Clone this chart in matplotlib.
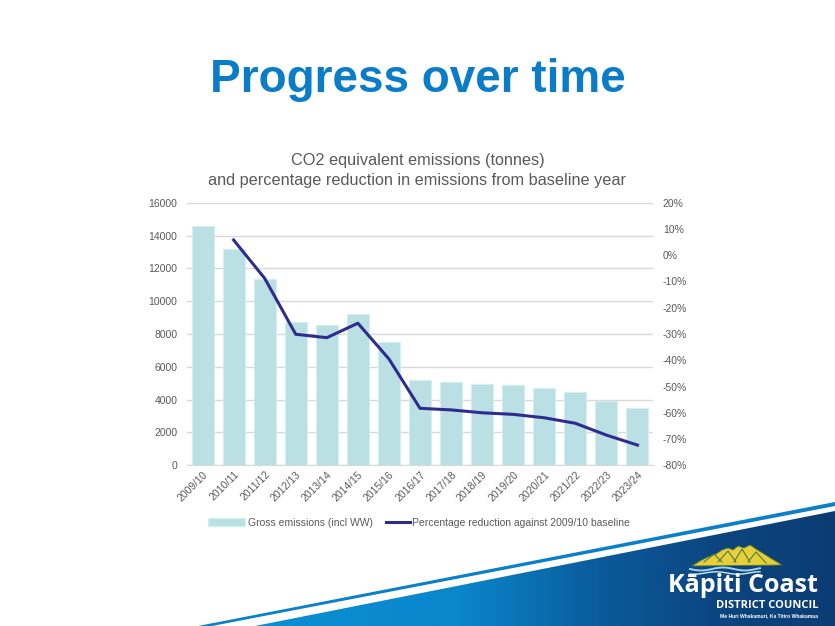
import numpy as np
import matplotlib
matplotlib.use("Agg")
import matplotlib.pyplot as plt
from matplotlib.patches import Polygon, Patch
from matplotlib.lines import Line2D
from matplotlib.colors import LinearSegmentedColormap

plt.rcParams['font.family'] = ['Liberation Sans', 'DejaVu Sans']

years = ["2009/10", "2010/11", "2011/12", "2012/13", "2013/14", "2014/15", "2015/16",
         "2016/17", "2017/18", "2018/19", "2019/20", "2020/21", "2021/22", "2022/23", "2023/24"]
gross = [14600, 13170, 11370, 8710, 8550, 9200, 7500, 5180, 5100, 4950, 4870, 4720, 4450, 3920, 3470]
pct = [np.nan, 5.8, -8.8, -30.1, -31.4, -25.9, -39.5, -58.3, -58.9, -60.0, -60.6, -61.9, -64.0, -68.5, -72.3]
left_ticks = list(range(0, 16001, 2000))
right_ticks = list(range(-80, 21, 10))

W, H = 835, 626
fig = plt.figure(figsize=(W / 100, H / 100), dpi=100)

# ---- background decoration (swoosh + logo) in pixel coordinates
bg = fig.add_axes([0, 0, 1, 1], zorder=0)
bg.set_xlim(0, W)
bg.set_ylim(H, 0)
bg.axis('off')

poly_pts = [(255, 626), (835, 511), (835, 626)]
grad = np.linspace(0, 1, 400)[None, :]
cmap = LinearSegmentedColormap.from_list('sw', [(0, '#0a8fd4'), (0.35, '#0a86cb'), (0.6, '#0b5a9a'),
                                                (0.8, '#0b4580'), (1, '#0b3d74')])
im = bg.imshow(grad, extent=[255, 835, 626, 505], cmap=cmap, aspect='auto', zorder=1)
clip = Polygon(poly_pts, closed=True, transform=bg.transData, facecolor='none', edgecolor='none')
bg.add_patch(clip)
im.set_clip_path(clip)
stripe = Polygon([(198, 626), (835, 502), (835, 506), (212, 626)], closed=True,
                 facecolor='#0a7fca', edgecolor='none', zorder=2)
bg.add_patch(stripe)
bg.set_xlim(0, W)
bg.set_ylim(H, 0)

# logo mountain
mount = [(692, 566), (700, 561), (708, 557), (716, 554), (722, 550), (728, 548), (733, 550),
         (738, 546), (744, 548), (750, 545), (756, 549), (764, 554), (772, 559), (782, 565)]
bg.add_patch(Polygon(mount, closed=True, facecolor='#e6cf3a', edgecolor='#5a7a2a', lw=0.6, zorder=3))
for xs, ys in [([704, 714, 722], [562, 554, 562]), ([718, 728, 736], [562, 551, 562]),
               ([734, 742, 750], [562, 549, 562]), ([748, 756, 766], [562, 552, 563])]:
    bg.plot(xs, ys, color='#4f7b3a', lw=0.8, zorder=4)
wx = np.linspace(690, 760, 40)
bg.plot(wx, 569 + 1.5 * np.sin((wx - 690) / 7), color='#9fd3ee', lw=1.4, zorder=4)
bg.plot(wx, 573 + 1.2 * np.sin((wx - 690) / 7 + 1), color='#cfe9f7', lw=1.0, zorder=4)

bg.text(818, 585, "Kāpiti Coast", color='white', fontsize=18, fontweight='bold',
        family=['Open Sans', 'DejaVu Sans'], ha='right', va='center', zorder=5)
bg.text(818, 605, "DISTRICT COUNCIL", color='white', fontsize=8, fontweight='bold',
        family=['Open Sans', 'DejaVu Sans'], ha='right', va='center', zorder=5)
bg.text(818, 616, "Me Huri Whakamuri, Ka Titiro Whakamua", color='white', fontsize=3.6,
        fontweight='bold', ha='right', va='center', zorder=5)

# ---- titles
fig.text(0.5006, 1 - 80 / H, "Progress over time", color='#0b7dc8', fontsize=33,
         fontweight='bold', ha='center', va='center')
fig.text(0.5, 1 - 160 / H, "CO2 equivalent emissions (tonnes)", color='#595959',
         fontsize=11.7, ha='center', va='center')
fig.text(0.5, 1 - 180 / H, "and percentage reduction in emissions from baseline year",
         color='#595959', fontsize=11.7, ha='center', va='center')

# ---- main chart
ax = fig.add_axes([187 / W, 1 - 465.3 / H, (653 - 187) / W, (465.3 - 202.7) / H], zorder=2)
ax.patch.set_alpha(0)
x = np.arange(len(years))
ax.bar(x, gross, width=0.71, color='#bae0e4', edgecolor='#d2eff1', linewidth=0.8, zorder=2)
ax.set_xlim(-0.5, len(years) - 0.5)
ax.set_ylim(0, 16000)
ax.set_yticks(left_ticks)
ax.set_yticklabels([str(v) for v in left_ticks])
ax.grid(axis='y', color='#d9d9d9', lw=1)
ax.set_axisbelow(True)
for s in ['top', 'left', 'right']:
    ax.spines[s].set_visible(False)
ax.spines['bottom'].set_color('#d9d9d9')
ax.tick_params(axis='both', length=0, labelsize=7.5, labelcolor='#595959')
ax.tick_params(axis='y', pad=7)
ax.set_xticks(x)
ax.set_xticklabels(years, rotation=45, ha='right', rotation_mode='anchor')
ax.tick_params(axis='x', pad=3)

ax2 = ax.twinx()
ax2.plot(x, pct, color='#2e2d8f', lw=2.2, zorder=3)
ax2.set_ylim(-80, 20)
ax2.set_yticks(right_ticks)
ax2.set_yticklabels([f"{v}%" for v in right_ticks])
ax2.tick_params(axis='y', length=0, labelsize=7.5, labelcolor='#595959', pad=7)
for s in ax2.spines.values():
    s.set_visible(False)

h1 = Patch(facecolor='#bae0e4', edgecolor='#d2eff1', label='Gross emissions (incl WW)')
h2 = Line2D([0], [0], color='#2e2d8f', lw=2.2, label='Percentage reduction against 2009/10 baseline')
leg1 = fig.legend(handles=[h1], loc='center left', bbox_to_anchor=(208 / W, 1 - 523 / H),
                  frameon=False, fontsize=7.5, labelcolor='#595959', handlelength=3.55,
                  handletextpad=0.3, handleheight=0.8, borderpad=0, borderaxespad=0)
leg2 = fig.legend(handles=[h2], loc='center left', bbox_to_anchor=(386 / W, 1 - 523 / H),
                  frameon=False, fontsize=7.5, labelcolor='#595959', handlelength=2.3,
                  handletextpad=0.2, borderpad=0, borderaxespad=0)

fig.savefig('out.png', dpi=100)
